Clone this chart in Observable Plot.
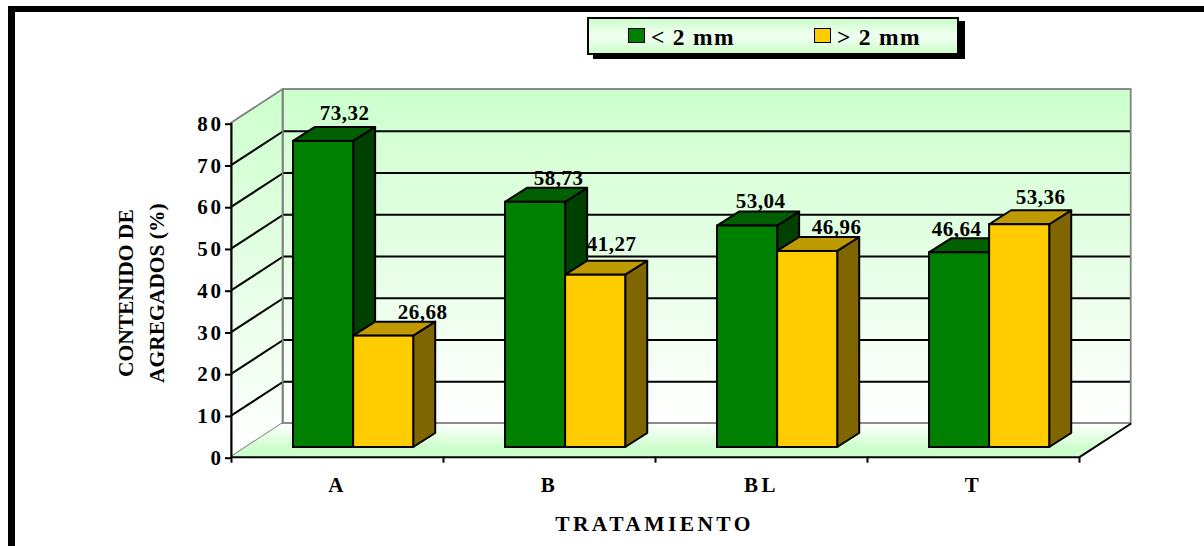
<!DOCTYPE html>
<html>
<head>
<meta charset="utf-8">
<script src="https://cdn.jsdelivr.net/npm/d3@7"></script>
<script src="https://cdn.jsdelivr.net/npm/@observablehq/plot@0.6"></script>
<style>
  html, body { margin: 0; padding: 0; background: #fff; width: 1204px; height: 546px; overflow: hidden; }
  #root { position: relative; width: 1204px; height: 546px; font-family: "Liberation Serif", serif; font-weight: bold; color: #000; }
  #root svg { position: absolute; left: 0; top: 0; }
  .frame { position: absolute; background: #000; }
  #legend { position: absolute; left: 587px; top: 17px; width: 368px; height: 34px; border: 2px solid #000;
    background: linear-gradient(#ccffcc, #f2fff2 50%, #ccffcc); box-shadow: 6px 4px 0 #000; }
  #legend .sw { position: absolute; top: 9px; width: 15px; height: 13px; border: 1.5px solid #000; }
  #legend .tx { position: absolute; top: 5px; font-size: 23.5px; line-height: 26px; letter-spacing: 1.3px; white-space: pre; }
</style>
</head>
<body>
<div id="root"></div>
<script>
// ---- data ----
const categories = ["A", "B", "BL", "T"];
const seriesNames = ["< 2 mm", "> 2 mm"];
const fineValues = [73.32, 58.73, 53.04, 46.64];
const coarseValues = [26.68, 41.27, 46.96, 53.36];
const valueLabels = [["73,32", "58,73", "53,04", "46,64"], ["26,68", "41,27", "46,96", "53,36"]];
const yTicks = [0, 10, 20, 30, 40, 50, 60, 70, 80];
const xTitle = "TRATAMIENTO";
const yTitleLines = ["CONTENIDO DE", "AGREGADOS (%)"];

// ---- styling and 3D projection constants ----
const frontColors = ["#008000", "#ffcc00"];
const topColors = ["#006000", "#bf9900"];
const sideColors = ["#004000", "#806600"];
const wallDepthX = 0.2439, wallDepthY = 8.07;   // depth of the box, in scale units
const barDepthX = 0.1038, barDepthY = 3.35;     // depth of a bar
const baseX = 0.0708, baseY = 2.32;             // floor offset of the bar front plane
const barStart = 0.2217, barWidth = 0.2835;     // within one category
// hand-placed label nudges of the original, in pixels from the front top centre of a bar
const labelNudges = [
  [[21, -28], [23, -24], [13, -24.6], [-3, -24]],
  [[39, -23.6], [16, -31], [29, -24], [21, -27]]
];

const bars = [fineValues, coarseValues].flatMap((vals, s) => vals.map((v, i) => {
  const x1 = i + barStart + baseX + s * barWidth;
  return { id: `${s}-${i}`, s, i, v, x1, x2: x1 + barWidth, y1: baseY, y2: baseY + v };
}));

const sideFaces = bars.flatMap(b => [
  { id: b.id, s: b.s, x: b.x2, lo: b.y1, hi: b.y2 },
  { id: b.id, s: b.s, x: b.x2 + barDepthX, lo: b.y1 + barDepthY, hi: b.y2 + barDepthY }
]);
const topFaces = bars.flatMap(b => [
  { id: b.id, s: b.s, l: b.x1, r: b.x2, y: b.y2 },
  { id: b.id, s: b.s, l: b.x1 + barDepthX, r: b.x2 + barDepthX, y: b.y2 + barDepthY }
]);

const font = { fontFamily: "Liberation Serif", fontWeight: "bold" };
const gridValues = yTicks.slice(1, -1);
const N = categories.length, maxY = yTicks[yTicks.length - 1];

function gradients() {
  const ns = "http://www.w3.org/2000/svg";
  const defs = document.createElementNS(ns, "defs");
  const add = (id, stops) => {
    const g = document.createElementNS(ns, "linearGradient");
    g.setAttribute("id", id);
    g.setAttribute("x1", "0"); g.setAttribute("x2", "0"); g.setAttribute("y1", "0"); g.setAttribute("y2", "1");
    stops.forEach(([o, c]) => {
      const st = document.createElementNS(ns, "stop");
      st.setAttribute("offset", o); st.setAttribute("stop-color", c);
      g.appendChild(st);
    });
    defs.appendChild(g);
  };
  add("wall", [[0, "#ccffcc"], [1, "#ffffff"]]);
  add("floor", [[0, "#ffffff"], [0.75, "#ccffcc"], [1, "#ccffcc"]]);
  return defs;
}

function barMarks(s) {
  const own = d => d.s === s;
  return [
    Plot.area(sideFaces.filter(own), { x1: "x", x2: "x", y1: "lo", y2: "hi", z: "id", fill: sideColors[s], stroke: "#000", strokeWidth: 2 }),
    Plot.area(topFaces.filter(own), { x1: "l", x2: "r", y1: "y", y2: "y", z: "id", fill: topColors[s], stroke: "#000", strokeWidth: 2 }),
    Plot.rect(bars.filter(own), { x1: "x1", x2: "x2", y1: "y1", y2: "y2", fill: frontColors[s], stroke: "#000", strokeWidth: 2 })
  ];
}

const labelMarks = bars.map(b => Plot.text([b], {
  x: d => (d.x1 + d.x2) / 2,
  y: "y2",
  text: d => valueLabels[d.s][d.i],
  dx: labelNudges[b.s][b.i][0],
  dy: labelNudges[b.s][b.i][1],
  fontSize: 21, ...font, fill: "#000"
}));

const chart = Plot.plot({
  width: 1204,
  height: 546,
  marginLeft: 231,
  marginRight: 125,
  marginTop: 122.7,
  marginBottom: 89.3,
  style: { background: "transparent", overflow: "visible" },
  x: { type: "linear", domain: [0, N], axis: null },
  y: { type: "linear", domain: [0, maxY], axis: null },
  marks: [
    gradients,
    // back wall
    Plot.rect([0], { x1: wallDepthX, x2: N + wallDepthX, y1: wallDepthY, y2: maxY + wallDepthY, fill: "url(#wall)" }),
    // side wall
    Plot.area([0, wallDepthX], { x1: d => d, x2: d => d, y1: d => d / wallDepthX * wallDepthY, y2: d => maxY + d / wallDepthX * wallDepthY, fill: "url(#wall)", stroke: "#808080", strokeWidth: 1.8 }),
    // floor
    Plot.area([0, wallDepthY], { x1: d => d / wallDepthY * wallDepthX, x2: d => N + d / wallDepthY * wallDepthX, y1: d => d, y2: d => d, fill: "url(#floor)" }),
    // grid
    Plot.ruleY(gridValues, { y: d => d + wallDepthY, x1: wallDepthX, x2: N + wallDepthX, stroke: "#000", strokeWidth: 2 }),
    Plot.link(gridValues, { x1: 0, y1: d => d, x2: wallDepthX, y2: d => d + wallDepthY, stroke: "#000", strokeWidth: 2 }),
    // back wall outline
    Plot.rect([0], { x1: wallDepthX, x2: N + wallDepthX, y1: wallDepthY, y2: maxY + wallDepthY, fill: "none", stroke: "#808080", strokeWidth: 1.8 }),
    // right floor edge
    Plot.link([0], { x1: N, y1: 0, x2: N + wallDepthX, y2: wallDepthY, stroke: "#000", strokeWidth: 2 }),
    ...labelMarks,
    ...barMarks(0),
    ...barMarks(1),
    // axes
    Plot.ruleX([0], { y1: 0, y2: maxY, stroke: "#000", strokeWidth: 2 }),
    Plot.ruleY([0], { x1: 0, x2: N, stroke: "#000", strokeWidth: 2 }),
    Plot.axisY(yTicks, { anchor: "left", label: null, tickSize: 6, strokeWidth: 2, stroke: "#000", tickPadding: 2, dy: 1, fontSize: 21, ...font, fill: "#000" }),
    Plot.axisX(d3.range(N + 1), { anchor: "bottom", label: null, tickSize: 6, strokeWidth: 2, stroke: "#000", text: null }),
    Plot.axisX(d3.range(N).map(i => i + 0.5), { anchor: "bottom", label: null, tickSize: 0, tickPadding: 20, tickFormat: d => categories[Math.floor(d)], fontSize: 21, ...font, fill: "#000" }),
    // titles
    Plot.text([xTitle], { frameAnchor: "bottom", dy: 74, dx: -1, textAnchor: "middle", text: d => d, fontSize: 21.5, ...font, fill: "#000" }),
    Plot.text([yTitleLines[0]], { frameAnchor: "left", dx: -105, dy: 3, rotate: -90, textAnchor: "middle", text: d => d, fontSize: 21.5, ...font, fill: "#000" }),
    Plot.text([yTitleLines[1]], { frameAnchor: "left", dx: -74.5, dy: 3, rotate: -90, textAnchor: "middle", text: d => d, fontSize: 21.5, ...font, fill: "#000" })
  ]
});

// letter spacing of the original's stretched text
chart.querySelectorAll("text").forEach(t => {
  const s = t.textContent;
  let sp = null;
  if (s === xTitle) sp = 3.4;
  else if (/^\d+$/.test(s)) sp = 2.6;
  else if (categories.includes(s)) sp = 3.5;
  else if (s.includes(",")) sp = 0.5;
  if (sp !== null) t.style.letterSpacing = sp + "px";
});

const root = document.getElementById("root");
root.appendChild(chart);

// page frame
const frameTop = document.createElement("div");
frameTop.className = "frame";
frameTop.style.cssText = "left:8px;top:6px;width:1196px;height:6px;";
const frameLeft = document.createElement("div");
frameLeft.className = "frame";
frameLeft.style.cssText = "left:8px;top:6px;width:6.5px;height:540px;";
root.appendChild(frameTop);
root.appendChild(frameLeft);

// legend
const legend = document.createElement("div");
legend.id = "legend";
[[39, 62], [225, 248]].forEach(([sx, tx], s) => {
  const sw = document.createElement("div");
  sw.className = "sw";
  sw.style.left = sx + "px";
  sw.style.background = frontColors[s];
  const t = document.createElement("div");
  t.className = "tx";
  t.style.left = tx + "px";
  t.textContent = seriesNames[s];
  legend.appendChild(sw);
  legend.appendChild(t);
});
root.appendChild(legend);
</script>
</body>
</html>
